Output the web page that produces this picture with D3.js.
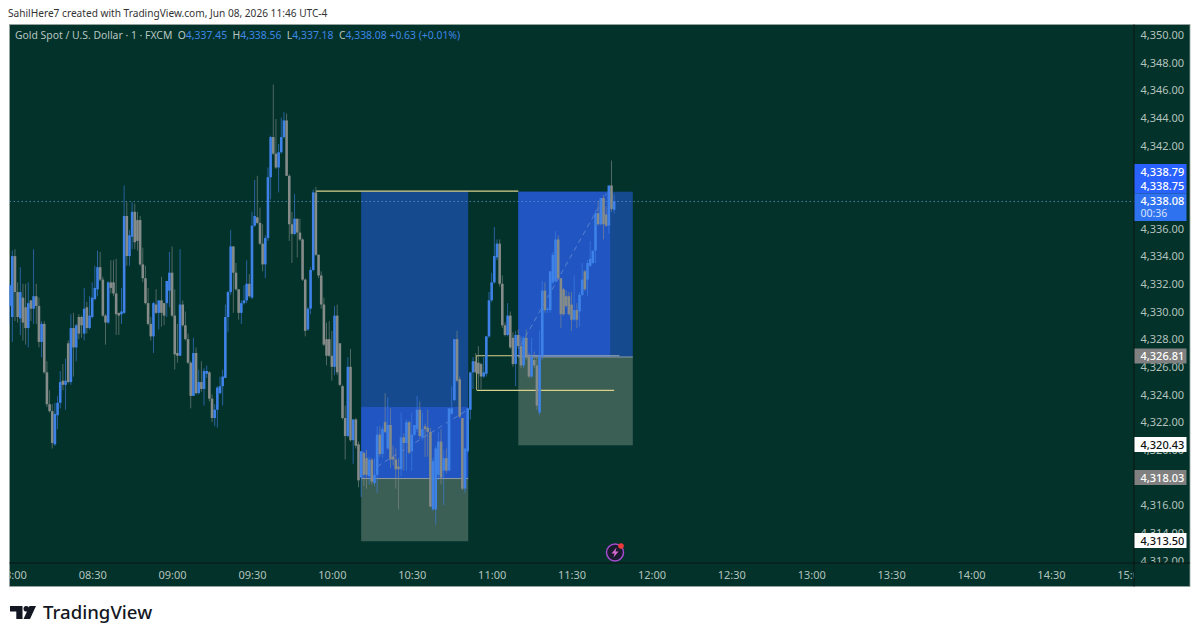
<!DOCTYPE html>
<html><head><meta charset="utf-8">
<style>html,body{margin:0;padding:0;background:#fff;overflow:hidden}svg{display:block}text{font-family:"Noto Sans",sans-serif}</style>
<script src="https://cdn.jsdelivr.net/npm/d3@7"></script></head><body>
<svg id="c" width="1200" height="639"></svg>
<script>
// 1-minute candles, first bar at 07:59
const firstMinute = 479;
const opens = [4330.5,4329.7,4334.1,4331.5,4329.6,4331.1,4330.4,4328.9,4330.9,4330.3,4331.2,4330.5,4327.9,4329.2,4325.7,4323.4,4322.9,4320.5,4322.6,4323.5,4325.1,4324.8,4327.8,4325.0,4328.9,4327.5,4329.7,4329.7,4328.5,4330.4,4328.9,4329.7,4331.0,4331.7,4333.3,4332.4,4329.8,4329.3,4332.2,4332.2,4331.4,4330.0,4329.9,4330.0,4337.0,4334.1,4335.5,4337.3,4336.7,4336.7,4333.5,4332.5,4330.7,4329.2,4328.3,4330.6,4330.0,4330.9,4330.7,4330.7,
4331.6,4332.9,4329.8,4327.1,4326.9,4330.6,4329.1,4328.1,4326.4,4324.0,4327.1,4324.2,4325.0,4324.5,4325.6,4325.7,4323.8,4322.4,4323.0,4324.2,4324.7,4325.3,4329.7,4331.5,4334.8,4332.9,4331.7,4330.0,4330.7,4330.9,4332.1,4331.1,4336.3,4336.9,4336.5,4335.0,4333.5,4335.4,4339.8,4342.7,4341.5,4340.5,4341.6,4342.7,4343.9,4339.9,4336.4,4335.7,4336.8,4335.8,4335.3,4332.4,4328.8,4330.3,4333.1,4338.7,4334.2,4332.7,4330.6,
4328.1,4328.1,4326.9,4326.1,4329.8,4327.8,4324.7,4322.4,4321.1,4326.1,4320.8,4322.3,4320.5,4318.1,4319.9,4319.5,4318.2,4319.4,4317.7,4318.3,4321.2,4319.8,4322.1,4320.2,4321.9,4319.6,4319.4,4318.9,4318.7,4321.0,4320.6,4322.1,4320.0,4321.2,4321.6,4323.0,4321.0,4321.8,4321.7,4321.4,4315.8,4315.8,4318.3,4320.7,4318.6,4319.5,4318.6,4322.7,4323.7,4328.1,4325.2,4322.4,4317.3,4320.0,
4323.0,4325.7,4326.5,4326.4,4326.3,4325.4,4325.6,4328.3,4330.9,4332.2,4334.0,4335.0,4332.1,4329.1,4328.4,4329.8,4328.2,4326.3,4328.4,4327.6,4326.2,4328.2,4326.8,4325.4,4326.6,4326.2,4322.8,4326.9,4331.6,4330.2,4330.2,4332.2,4332.3,4335.3,4332.5,4331.7,4331.2,4331.2,4330.6,4329.5,4330.2,4330.1,4331.3,4333.0,4332.4,4333.4,4333.6,4334.5,4337.2,4336.4,4338.3,4337.1,4336.3,4339.2,4337.45];
const highs = [4332.1,4334.5,4334.6,4332.2,4333.3,4332.1,4332.1,4332.2,4330.9,4334.6,4332.1,4331.1,4329.4,4329.4,4326.5,4324.4,4323.4,4323.5,4324.0,4325.8,4326.3,4326.7,4328.0,4329.9,4330.0,4329.2,4329.9,4329.8,4331.8,4330.8,4331.2,4332.2,4333.4,4334.5,4334.4,4332.6,4329.9,4332.3,4333.8,4333.8,4333.9,4330.0,4331.8,4339.2,4338.0,4336.0,4338.0,4337.9,4337.3,4337.0,4334.7,4333.4,4331.8,4329.7,4330.8,4331.7,4330.9,4332.6,4330.7,4332.3,
4334.4,4334.8,4331.7,4329.2,4334.6,4330.9,4330.1,4328.5,4326.5,4328.2,4327.5,4325.9,4326.5,4326.0,4326.2,4325.8,4324.1,4323.4,4324.7,4325.4,4325.9,4330.6,4331.6,4336.0,4334.8,4333.6,4331.7,4330.9,4332.0,4333.8,4332.8,4337.3,4339.6,4339.9,4337.6,4336.4,4335.6,4340.5,4342.8,4346.5,4344.0,4342.2,4344.1,4344.5,4344.4,4340.0,4337.3,4338.6,4336.8,4336.8,4335.4,4332.5,4330.4,4333.3,4338.9,4339.1,4334.2,4333.0,4331.1,
4329.3,4329.4,4328.7,4330.5,4330.6,4327.8,4324.8,4323.3,4326.8,4327.4,4322.3,4322.4,4320.7,4320.0,4319.9,4320.1,4319.6,4319.5,4319.5,4321.8,4321.8,4321.8,4324.2,4323.9,4323.1,4320.4,4320.2,4319.5,4322.8,4321.3,4322.3,4322.2,4322.8,4321.9,4324.0,4323.6,4322.8,4322.0,4323.0,4321.7,4319.5,4320.4,4321.4,4321.6,4320.1,4320.2,4323.1,4324.7,4328.1,4328.7,4325.4,4322.4,4320.2,4323.1,
4325.7,4326.8,4327.1,4327.6,4326.4,4326.8,4328.3,4331.5,4332.9,4336.2,4335.3,4335.3,4332.7,4329.3,4330.7,4330.1,4328.6,4328.7,4328.8,4328.3,4328.3,4328.8,4327.1,4328.2,4327.2,4326.9,4328.7,4332.3,4332.2,4330.4,4333.0,4334.4,4335.9,4335.6,4332.5,4331.8,4331.6,4331.5,4331.5,4332.7,4330.7,4331.5,4333.6,4333.1,4333.8,4335.2,4334.5,4337.4,4338.1,4338.3,4338.5,4337.7,4339.2,4341.0,4338.56];
const lows = [4329.2,4327.9,4329.4,4329.3,4328.4,4328.0,4327.7,4327.5,4329.4,4329.2,4329.2,4327.5,4326.8,4325.6,4323.2,4322.8,4320.2,4320.4,4321.6,4323.1,4324.4,4323.0,4324.9,4324.8,4325.4,4326.5,4328.1,4328.2,4328.0,4328.5,4328.8,4329.6,4330.9,4331.2,4332.3,4329.7,4327.7,4329.2,4331.4,4331.2,4328.4,4328.4,4329.2,4329.9,4333.4,4333.4,4334.6,4334.6,4334.5,4333.4,4332.2,4330.6,4329.1,4328.0,4327.1,4329.9,4328.8,4329.0,4329.1,4329.7,
4330.4,4329.7,4325.9,4326.4,4326.9,4329.0,4328.0,4326.3,4323.1,4324.0,4324.1,4324.1,4324.3,4323.3,4325.3,4323.6,4322.1,4321.8,4321.7,4324.1,4323.3,4325.3,4328.6,4331.3,4330.0,4331.6,4329.5,4329.2,4330.6,4330.7,4331.1,4331.0,4336.2,4336.4,4334.9,4333.0,4332.5,4335.2,4338.2,4341.4,4340.4,4338.7,4341.5,4342.6,4339.9,4335.2,4333.6,4335.6,4334.0,4335.2,4332.3,4328.3,4328.7,4329.9,4333.0,4334.1,4332.5,4330.3,4327.6,
4326.2,4326.8,4325.1,4325.5,4325.5,4324.7,4322.3,4319.4,4321.0,4320.7,4319.1,4320.2,4317.4,4316.7,4317.5,4317.3,4317.6,4317.6,4317.5,4317.0,4319.6,4319.5,4321.3,4320.1,4318.8,4319.0,4317.3,4315.8,4318.2,4318.6,4318.6,4319.8,4318.6,4321.1,4321.4,4320.9,4320.8,4319.6,4319.6,4316.0,4315.7,4314.7,4317.9,4317.6,4316.1,4318.4,4318.6,4322.7,4323.6,4325.0,4322.4,4317.2,4317.0,4319.9,
4322.3,4324.5,4325.7,4324.5,4324.5,4325.3,4325.4,4328.2,4330.8,4332.1,4333.8,4331.9,4328.9,4328.3,4328.3,4327.4,4326.1,4324.7,4327.4,4326.0,4326.0,4326.6,4325.3,4325.3,4326.0,4323.0,4322.6,4326.6,4330.0,4330.0,4330.0,4332.1,4332.2,4332.4,4328.9,4329.8,4330.4,4329.8,4328.7,4329.4,4328.9,4329.0,4331.2,4331.6,4331.2,4333.3,4333.5,4333.6,4336.3,4336.3,4335.3,4336.2,4335.7,4337.3,4337.18];
const closes = [4332.0,4334.1,4331.5,4329.7,4331.5,4329.3,4328.9,4330.7,4330.3,4331.2,4330.5,4327.9,4329.2,4325.7,4323.4,4322.9,4320.6,4322.7,4323.5,4325.0,4324.8,4325.1,4325.0,4328.9,4327.5,4329.1,4328.5,4329.1,4330.3,4328.9,4329.8,4331.1,4331.8,4333.3,4332.4,4329.8,4329.3,4332.2,4331.8,4331.4,4329.9,4329.8,4330.1,4337.0,4334.1,4335.6,4337.3,4335.1,4335.2,4333.5,4332.5,4330.7,4329.2,4328.3,4330.7,4330.0,4330.9,4330.0,4329.8,4332.3,
4332.9,4329.8,4327.0,4326.9,4330.6,4329.1,4328.1,4326.4,4324.0,4327.1,4324.2,4325.0,4324.5,4325.8,4325.8,4323.8,4322.4,4323.0,4324.6,4324.7,4325.4,4329.7,4331.5,4334.8,4332.9,4331.7,4330.0,4330.7,4330.9,4332.1,4331.2,4336.3,4337.0,4336.5,4335.0,4333.5,4335.4,4339.8,4342.7,4341.5,4340.5,4341.6,4342.7,4343.9,4339.9,4336.4,4335.7,4336.8,4335.8,4335.3,4332.4,4328.7,4330.3,4333.1,4338.7,4334.2,4332.7,4330.6,4327.7,
4326.9,4326.9,4326.1,4329.8,4325.7,4324.8,4322.4,4321.1,4326.1,4320.8,4322.3,4320.4,4317.9,4320.0,4318.3,4318.3,4319.4,4317.8,4318.3,4321.2,4319.8,4321.6,4321.4,4321.9,4319.4,4319.4,4318.7,4318.7,4321.0,4320.6,4322.1,4319.9,4321.2,4321.9,4323.0,4321.1,4321.6,4321.6,4321.4,4316.0,4319.3,4320.2,4320.7,4318.1,4319.5,4318.6,4323.1,4323.1,4328.1,4325.1,4322.5,4317.3,4320.2,4323.1,
4325.7,4326.5,4325.7,4325.6,4325.4,4325.7,4328.3,4330.9,4332.2,4334.1,4335.0,4332.1,4329.1,4328.4,4329.8,4327.5,4326.3,4328.4,4327.6,4326.2,4328.2,4326.8,4325.4,4326.8,4326.2,4323.3,4326.9,4331.6,4330.2,4330.3,4333.0,4334.2,4335.3,4332.5,4329.9,4329.9,4330.5,4329.9,4329.5,4330.2,4329.5,4331.3,4332.4,4331.7,4333.6,4333.9,4334.5,4337.2,4336.4,4338.3,4336.4,4336.3,4339.2,4337.5,4338.08];

const priceTicks = [4350,4348,4346,4344,4342,4340,4338,4336,4334,4332,4330,4328,4326,4324,4322,4320,4318,4316,4314,4312];
const timeTicks = [480,510,540,570,600,630,660,690,720,750,780,810,840,870,900];
const lastPrice = 4338.08;
// position tool 1 (minutes since midnight, prices)
const zone1Minutes = [611,651.2];
const zone1Prices = [4338.79,4318.03,4313.50];
const zone1Reached = 4323.2;
const zone1Path = [[617,4318.9],[651,4323.0]];
// position tool 2
const zone2Minutes = [670,713];
const zone2Prices = [4338.75,4326.81,4320.43];
const zone2ReachedEnd = 704.5;
const zone2Path = [[671,4327.7],[703,4338.6]];
// level lines: [minute from, minute to, price]
const yellowLevels = [[594,670,4338.79],[654.2,670,4326.9],[654.5,706,4324.4]];
const greyLevels = [[670,708,4326.9]];
const axisLabels = [
 {t:"4,338.79",p:171.5,b:"#2962ff",f:"#fff"},
 {t:"4,338.75",p:186,b:"#2962ff",f:"#fff"},
 {t:"4,326.81",p:356,b:"#808080",f:"#fff"},
 {t:"4,320.43",p:444.5,b:"#fff",f:"#111"},
 {t:"4,318.03",p:477.5,b:"#808080",f:"#fff"},
 {t:"4,313.50",p:540.5,b:"#fff",f:"#111"}];
const legendParts = [["Gold Spot / U.S. Dollar · 1 · FXCM  O","#b9c6c1"],["4,337.45","#3f86e6"],["  H","#b9c6c1"],["4,338.56","#3f86e6"],["  L","#b9c6c1"],["4,337.18","#3f86e6"],["  C","#b9c6c1"],["4,338.08","#3f86e6"],[" +0.63 (+0.01%)","#3f86e6"]];

const bg="#02322a", up="#3e82e8", down="#858b89";
const pane={l:9.5,t:24.5,r:1134,b:563,R:1190,B:586.5};
const x=d3.scaleLinear().domain([480,900]).range([12.3,1130.8]);
const y=d3.scaleLinear().domain([4312,4350]).range([562,36]);
const svg=d3.select("#c");
const defs=svg.append("defs");
defs.append("clipPath").attr("id","pc").append("rect").attr("x",pane.l).attr("y",pane.t).attr("width",pane.r-pane.l).attr("height",pane.b-pane.t);
defs.append("clipPath").attr("id","tc").append("rect").attr("x",pane.l).attr("y",pane.b).attr("width",pane.r-pane.l).attr("height",pane.B-pane.b);
defs.append("clipPath").attr("id","ac").append("rect").attr("x",pane.r).attr("y",pane.t).attr("width",pane.R-pane.r).attr("height",pane.b-pane.t);

svg.append("text").attr("x",8).attr("y",17).attr("font-size",10.15).attr("fill","#333").text("SahilHere7 created with TradingView.com, Jun 08, 2026 11:46 UTC-4");
svg.append("rect").attr("x",pane.l).attr("y",pane.t).attr("width",pane.R-pane.l).attr("height",pane.B-pane.t).attr("fill",bg).attr("stroke","#9aa5a1").attr("stroke-width",.8);

const plot=svg.append("g").attr("clip-path","url(#pc)");
function zone(m,p,reachedTop,reachedEnd,path){
  const g=plot.append("g");
  const X0=x(m[0]),X1=x(m[1]);
  g.append("rect").attr("x",X0).attr("y",y(p[0])).attr("width",X1-X0).attr("height",y(p[1])-y(p[0])).attr("fill","#154a8f");
  g.append("rect").attr("x",X0).attr("y",y(p[1])).attr("width",X1-X0).attr("height",y(p[2])-y(p[1])).attr("fill","#3b5f55");
  g.append("rect").attr("x",X0).attr("y",y(reachedTop)).attr("width",x(reachedEnd)-X0).attr("height",y(p[1])-y(reachedTop)).attr("fill","#2156c2");
  g.append("line").attr("x1",X0).attr("x2",X1).attr("y1",y(p[1])).attr("y2",y(p[1])).attr("stroke","#8d9aa8").attr("stroke-width",1);
  g.append("line").attr("x1",x(path[0][0])).attr("y1",y(path[0][1])).attr("x2",x(path[1][0])).attr("y2",y(path[1][1])).attr("stroke","#7f9fd6").attr("stroke-width",1).attr("stroke-dasharray","5 4").attr("opacity",.6);
}
zone(zone1Minutes,zone1Prices,zone1Reached,zone1Minutes[1],zone1Path);
zone(zone2Minutes,zone2Prices,zone2Prices[0],zone2ReachedEnd,zone2Path);

const lvl=plot.append("g");
lvl.selectAll("line.y").data(yellowLevels).join("line").attr("class","y").attr("x1",d=>x(d[0])).attr("x2",d=>x(d[1])).attr("y1",d=>y(d[2])).attr("y2",d=>y(d[2])).attr("stroke","#d9d08a").attr("stroke-width",1.2);
lvl.selectAll("line.g").data(greyLevels).join("line").attr("class","g").attr("x1",d=>x(d[0])).attr("x2",d=>x(d[1])).attr("y1",d=>y(d[2])).attr("y2",d=>y(d[2])).attr("stroke","#9aa7b5").attr("stroke-width",1.2);
lvl.append("line").attr("x1",x(654.3)).attr("x2",x(654.3)).attr("y1",y(4326.9)).attr("y2",y(4324.4)).attr("stroke","#c9c48a").attr("stroke-width",.8);
plot.append("line").attr("x1",pane.l).attr("x2",pane.r).attr("y1",y(lastPrice)+.5).attr("y2",y(lastPrice)+.5).attr("stroke","#5b93c9").attr("stroke-width",.8).attr("stroke-dasharray","1.5 2.5");

const bars=opens.map((o,i)=>({o,h:highs[i],l:lows[i],c:closes[i],m:firstMinute+i}));
const col=d=>d.c>=d.o?up:down;
plot.append("g").selectAll("line").data(bars).join("line")
 .attr("x1",d=>x(d.m)).attr("x2",d=>x(d.m)).attr("y1",d=>y(d.h)).attr("y2",d=>y(d.l))
 .attr("stroke",d=>col(d)).attr("stroke-width",.85).attr("opacity",.72);
plot.append("g").selectAll("rect").data(bars).join("rect")
 .attr("x",d=>x(d.m)-1.3).attr("width",2.6)
 .attr("y",d=>y(Math.max(d.o,d.c))).attr("height",d=>Math.max(1,Math.abs(y(d.o)-y(d.c))))
 .attr("fill",col);

// axes
const axCol="#b4c2bd";
const tAxis=d3.axisBottom(x).tickValues(timeTicks).tickSize(0).tickPadding(0)
 .tickFormat(m=>d3.format("02")(Math.floor(m/60))+":"+d3.format("02")(m%60));
const tg=svg.append("g").attr("clip-path","url(#tc)").append("g").attr("transform",`translate(0,${pane.b})`).call(tAxis);
tg.select(".domain").remove();
tg.selectAll("text").attr("dy",0).attr("y",16).attr("font-size",11).attr("font-family",'"Noto Sans",sans-serif').attr("fill",axCol);
const pAxis=d3.axisRight(y).tickValues(priceTicks).tickSize(0).tickPadding(6.5).tickFormat(d3.format(",.2f"));
const pg=svg.append("g").attr("clip-path","url(#ac)").append("g").attr("transform",`translate(${pane.r},-1.2)`).call(pAxis);
pg.select(".domain").remove();
pg.selectAll("text").attr("font-size",11).attr("font-family",'"Noto Sans",sans-serif').attr("fill",axCol);

svg.append("line").attr("x1",pane.r).attr("x2",pane.r).attr("y1",pane.t).attr("y2",pane.B).attr("stroke","#0b1512").attr("stroke-width",1);
svg.append("line").attr("x1",pane.l).attr("x2",pane.R).attr("y1",pane.b).attr("y2",pane.b).attr("stroke","#0b1512").attr("stroke-width",1);

// price labels
const lg=svg.append("g");
const lw=52;
axisLabels.forEach(d=>{
  lg.append("rect").attr("x",pane.r+.5).attr("y",d.p-7.5).attr("width",lw).attr("height",15).attr("fill",d.b);
  lg.append("text").attr("x",pane.r+6.5).attr("y",d.p+4).attr("font-size",11).attr("font-weight",500).attr("fill",d.f).text(d.t);
});
lg.append("rect").attr("x",pane.r+.5).attr("y",193.5).attr("width",lw).attr("height",27.5).attr("fill","#2f72f0");
lg.append("text").attr("x",pane.r+6.5).attr("y",205).attr("font-size",11).attr("font-weight",500).attr("fill","#fff").text(d3.format(",.2f")(lastPrice));
lg.append("text").attr("x",pane.r+6.5).attr("y",217).attr("font-size",10.5).attr("fill","#d6e3ff").text("00:36");

// legend
const lt=svg.append("text").attr("x",15).attr("y",39).attr("font-size",10.4).attr("xml:space","preserve");
legendParts.forEach(d=>lt.append("tspan").attr("fill",d[1]).text(d[0]));

// alert icon
const ic=svg.append("g").attr("transform","translate(615,552.5)");
ic.append("circle").attr("r",8.5).attr("fill","#1a1a2e").attr("stroke","#a54bd0").attr("stroke-width",1.5);
ic.append("path").attr("d","M1.5-5L-3.5 1H-.5L-1.5 5L3.5-1H.5Z").attr("fill","#d86ad0");
ic.append("circle").attr("cx",6).attr("cy",-6.5).attr("r",2.8).attr("fill","#f03a3a");

// brand
const br=svg.append("g").attr("transform","translate(10,606)").attr("fill","#131722");
br.append("path").attr("d","M0 0H12.5V13H6.3V5.5H0Z");
br.append("circle").attr("cx",16.3).attr("cy",2.8).attr("r",2.8);
br.append("path").attr("d","M19.5 0H26L20 13H13.5Z");
svg.append("text").attr("x",43).attr("y",619).attr("font-size",18.6).attr("font-weight",500).attr("font-family","Roboto,sans-serif").attr("fill","#131722").text("TradingView");
</script></body></html>
